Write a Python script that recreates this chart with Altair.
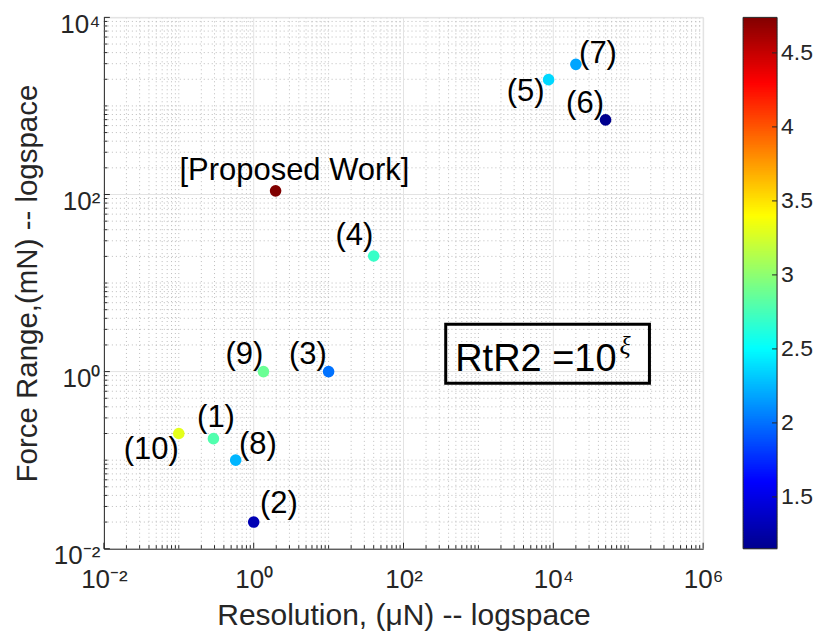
import altair as alt
import numpy as np
import pandas as pd

# ---------------- data ----------------
names = ["[Proposed Work]", "(1)", "(2)", "(3)", "(4)", "(5)", "(6)", "(7)", "(8)", "(9)", "(10)"]
resolution_uN = [1.96, 0.29, 1.0, 10.0, 40.0, 8650.0, 49800.0, 20000.0, 0.575, 1.35, 0.10]
force_range_mN = [110.0, 0.175, 0.020, 1.0, 20.2, 1980.0, 695.0, 2950.0, 0.10, 1.0, 0.20]
xi_values = [4.74, 2.78, 1.30, 2.00, 2.69, 2.36, 1.15, 2.18, 2.24, 2.87, 3.30]
label_x = [3.50, 0.314, 2.17, 5.30, 22.1, 4270.0, 26500.0, 39500.0, 1.14, 0.753, 0.0428]
label_y = [144.0, 0.236, 0.0253, 1.21, 26.6, 1150.0, 841.0, 3080.0, 0.117, 1.21, 0.1028]

x_major = [1e-2, 1e0, 1e2, 1e4, 1e6]
x_major_labels = ["10⁻²", "10⁰", "10²", "10⁴", "10⁶"]
y_major = [1e-2, 1e0, 1e2, 1e4]
y_major_labels = ["10⁻²", "10⁰", "10²", "10⁴"]
x_odd_decades = [1e-1, 1e1, 1e3, 1e5]
y_odd_decades = [1e-1, 1e1, 1e3]
cbar_ticks = [1.5, 2.0, 2.5, 3.0, 3.5, 4.0, 4.5]

box_x, box_x2, box_y, box_y2 = [366.0], [1.92e5], [3.42], [0.74]
note_x, note_y, note_text = [69800.0], [1.01], ["RtR2 =10"]
xi_x, xi_y, xi_text = [76600.0], [1.57], ["ξ"]

jet_t = [0.0, 0.125, 0.375, 0.625, 0.875, 1.0]
jet_colors = ["#00008f", "#0000ff", "#00ffff", "#ffff00", "#ff0000", "#800000"]

# ---------------- helpers ----------------
W, H = 600, 532
CB_W = 34
FONT = "Liberation Sans"
AX = "#262626"
LEFT_ROOM, TOP_ROOM = 94.7, 8.5   # space kept left of / above the plot area

def minor_list(k0, k1, extra):
    return [m * 10.0 ** k for k in range(k0, k1) for m in range(2, 10)] + extra

x_minor = minor_list(-2, 6, x_odd_decades)
y_minor = minor_list(-2, 4, y_odd_decades)

def label_expr(vals, labs):
    s = "''"
    for v, l in reversed(list(zip(vals, labs))):
        s = f"(abs(log(datum.value)/LN10 - ({int(round(np.log10(v)))})) < 0.01 ? '{l}' : {s})"
    return s

vmin, vmax = min(xi_values), max(xi_values)
cscale = alt.Scale(domain=[vmin + t * (vmax - vmin) for t in jet_t], range=jet_colors, interpolate="rgb")
xscale = alt.Scale(type="log", domain=[1e-2, 1e6], nice=False)
yscale = alt.Scale(type="log", domain=[1e-2, 1e4], nice=False)

XT = "Resolution, (μN) -- logspace"
YT = "Force Range,(mN) -- logspace"
xaxis = alt.Axis(values=x_major, labelExpr=label_expr(x_major, x_major_labels), grid=False, ticks=False,
                 tickSize=0, domain=True, domainColor=AX, domainWidth=1, labelFont=FONT, labelFontSize=26,
                 labelColor=AX, labelPadding=18, labelFlush=False, labelOverlap=False,
                 titleFont=FONT, titleFontSize=30,
                 titleFontWeight="normal", titleColor=AX, titleBaseline="alphabetic", titleY=76)
yaxis = alt.Axis(values=y_major, labelExpr=label_expr(y_major, y_major_labels), grid=False, ticks=False,
                 tickSize=0, domain=True, domainColor=AX, domainWidth=1, labelFont=FONT, labelFontSize=26,
                 labelColor=AX, labelPadding=4, labelOffset=7, labelFlush=False, labelOverlap=False,
                 titleFont=FONT, titleFontSize=29.5,
                 titleFontWeight="normal", titleColor=AX, titleBaseline="alphabetic", titleAngle=270,
                 titleX=-67.7, titleY=H / 2)

def X(field):
    return alt.X(field, scale=xscale, axis=xaxis, title=XT)

def Y(field):
    return alt.Y(field, scale=yscale, axis=yaxis, title=YT)

pts = pd.DataFrame({"name": names, "x": resolution_uN, "y": force_range_mN, "xi": xi_values,
                    "lx": label_x, "ly": label_y})

def vdf(vals):
    return pd.DataFrame({"v": vals})

one = pd.DataFrame({"a": [0]})

# invisible pins that fix the chart's outer bounds
pin_left = alt.Chart(one).mark_rule(opacity=0, strokeWidth=0).encode(
    x=alt.value(-LEFT_ROOM), x2=alt.value(-LEFT_ROOM), y=alt.value(0), y2=alt.value(H))
pin_top = alt.Chart(one).mark_rule(opacity=0, strokeWidth=0).encode(
    x=alt.value(0), x2=alt.value(W), y=alt.value(-TOP_ROOM), y2=alt.value(-TOP_ROOM))

# grid
minor_gx = alt.Chart(vdf(x_minor)).mark_rule(color="#bdbdbd", strokeWidth=1, strokeDash=[1, 3]).encode(
    x=X("v:Q"), y=alt.value(0), y2=alt.value(H))
minor_gy = alt.Chart(vdf(y_minor)).mark_rule(color="#bdbdbd", strokeWidth=1, strokeDash=[1, 3]).encode(
    y=Y("v:Q"), x=alt.value(0), x2=alt.value(W))
major_gx = alt.Chart(vdf(x_major[1:])).mark_rule(color="#e3e3e3", strokeWidth=1).encode(
    x=X("v:Q"), y=alt.value(0), y2=alt.value(H))
major_gy = alt.Chart(vdf(y_major[1:])).mark_rule(color="#e3e3e3", strokeWidth=1).encode(
    y=Y("v:Q"), x=alt.value(0), x2=alt.value(W))

# inward ticks
tick_xM = alt.Chart(vdf(x_major)).mark_rule(color=AX, strokeWidth=1).encode(
    x=X("v:Q"), y=alt.value(H), y2=alt.value(H - 6))
tick_xm = alt.Chart(vdf(x_minor)).mark_rule(color=AX, strokeWidth=1).encode(
    x=X("v:Q"), y=alt.value(H), y2=alt.value(H - 3.5))
tick_yM = alt.Chart(vdf(y_major)).mark_rule(color=AX, strokeWidth=1).encode(
    y=Y("v:Q"), x=alt.value(0), x2=alt.value(6))
tick_ym = alt.Chart(vdf(y_minor)).mark_rule(color=AX, strokeWidth=1).encode(
    y=Y("v:Q"), x=alt.value(0), x2=alt.value(3.5))

points = alt.Chart(pts).mark_circle(size=135, opacity=1).encode(
    x=X("x:Q"), y=Y("y:Q"), color=alt.Color("xi:Q", scale=cscale, legend=None))

texts = alt.Chart(pts).mark_text(font=FONT, fontSize=31, color="black", align="center",
                                 baseline="alphabetic").encode(
    x=X("lx:Q"), y=Y("ly:Q"), text="name:N")

box = alt.Chart(pd.DataFrame({"x": box_x, "x2": box_x2, "y": box_y, "y2": box_y2})).mark_rect(
    fillOpacity=0, stroke="black", strokeWidth=3).encode(
    x=X("x:Q"), x2="x2:Q", y=Y("y:Q"), y2="y2:Q")
note = alt.Chart(pd.DataFrame({"x": note_x, "y": note_y, "t": note_text})).mark_text(
    font=FONT, fontSize=38, color="black", align="right", baseline="alphabetic").encode(
    x=X("x:Q"), y=Y("y:Q"), text="t:N")
note_xi = alt.Chart(pd.DataFrame({"x": xi_x, "y": xi_y, "t": xi_text})).mark_text(
    font="Liberation Serif", fontStyle="italic", fontSize=26, color="black", align="left",
    baseline="alphabetic").encode(
    x=X("x:Q"), y=Y("y:Q"), text="t:N")

main = alt.layer(minor_gx, minor_gy, major_gx, major_gy, tick_xM, tick_xm, tick_yM, tick_ym,
                 box, points, texts, note, note_xi, pin_left, pin_top).properties(width=W, height=H)

# ---------------- colorbar ----------------
steps = np.linspace(vmin, vmax, 301)
cb = pd.DataFrame({"v": steps[:-1], "v2": np.minimum(steps[1:] + 0.006, vmax)})
cbscale = alt.Scale(domain=[vmin, vmax], nice=False, zero=False)
cb_axis = alt.Axis(orient="right", values=cbar_ticks, format="~g", grid=False, ticks=False, tickSize=0,
                   domain=False, labelFont=FONT, labelFontSize=23, labelColor=AX, labelPadding=3.5,
                   labelFlush=False, labelOverlap=False)

def CBY(field):
    return alt.Y(field, scale=cbscale, axis=cb_axis, title=None)

cb_rect = alt.Chart(cb).mark_rect().encode(
    y=CBY("v:Q"), y2="v2:Q",
    x=alt.value(0), x2=alt.value(CB_W),
    color=alt.Color("v:Q", scale=cscale, legend=None))
cb_border = alt.Chart(one).mark_rect(fillOpacity=0, stroke=AX, strokeWidth=1).encode(
    x=alt.value(0), x2=alt.value(CB_W), y=alt.value(0), y2=alt.value(H))
cb_ticks = alt.Chart(vdf(cbar_ticks)).mark_rule(color=AX, strokeWidth=1).encode(
    y=CBY("v:Q"), x=alt.value(CB_W), x2=alt.value(CB_W - 5))
cbar = alt.layer(cb_rect, cb_border, cb_ticks).properties(width=CB_W, height=H)

chart = alt.hconcat(main, cbar, spacing=40, bounds="flush").properties(
    padding={"left": 0, "top": 0, "right": 0, "bottom": 0}
).configure_view(stroke=None).configure(background="white")

chart.save("out.html", embed_options={"renderer": "svg", "actions": False})
